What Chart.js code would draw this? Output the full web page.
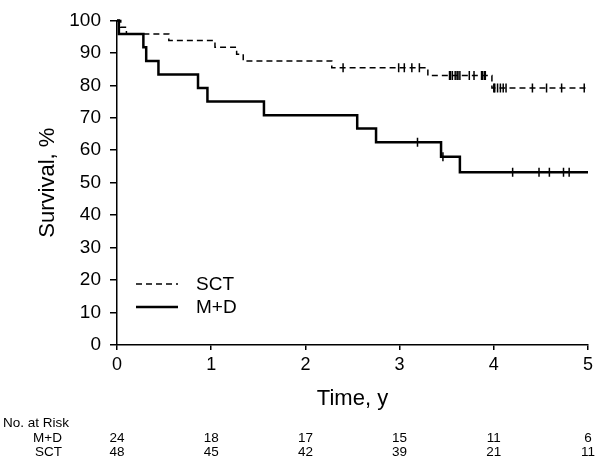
<!DOCTYPE html>
<html>
<head>
<meta charset="utf-8">
<script src="https://cdn.jsdelivr.net/npm/chart.js@4"></script>
<style>
  body { margin: 0; background: #fff; }
  #wrap { width: 600px; height: 462px; }
</style>
</head>
<body>
<div id="wrap"><canvas id="kmChart"></canvas></div>
<script>
// Kaplan-Meier data (time in years, survival in %)
const sctEventTimes = [0.04, 0.10, 0.55, 1.04, 1.27, 1.34, 2.28, 3.30, 3.98];
const sctSurvival   = [97.9, 95.8, 93.8, 91.7, 89.6, 87.5, 85.4, 83.0, 79.2];
const sctCensored   = [2.40, 2.99, 3.05, 3.13, 3.21, 3.53, 3.54, 3.56, 3.59, 3.61, 3.62, 3.64,
                       3.74, 3.79, 3.87, 3.88, 3.90, 3.91, 4.00, 4.01, 4.04, 4.07, 4.10, 4.13,
                       4.41, 4.56, 4.72, 4.96];

const mdEventTimes = [0.02, 0.28, 0.31, 0.44, 0.86, 0.96, 1.56, 2.55, 2.75, 3.44, 3.64];
const mdSurvival   = [95.8, 91.7, 87.5, 83.3, 79.2, 75.0, 70.8, 66.7, 62.5, 58.0, 53.2];
const mdCensored   = [3.19, 3.46, 4.20, 4.48, 4.59, 4.74, 4.80];

// number at risk table
const riskTimes = [0, 1, 2, 3, 4, 5];
const riskMD    = [24, 18, 17, 15, 11, 6];
const riskSCT   = [48, 45, 42, 39, 21, 11];

const xTicks = [0, 1, 2, 3, 4, 5];
const yTicks = [0, 10, 20, 30, 40, 50, 60, 70, 80, 90, 100];

const FONT = '"Liberation Sans", Arial, sans-serif';
Chart.defaults.font.family = FONT;
Chart.defaults.color = '#000';

// step curve points: start at 100%, drop at each event, run flat to the end
function stepPoints(times, surv, tEnd) {
  const pts = [{ x: 0, y: 100 }];
  times.forEach((t, i) => pts.push({ x: t, y: surv[i] }));
  pts.push({ x: tEnd, y: surv[surv.length - 1] });
  return pts;
}

// survival value at time t from the step function
function survivalAt(times, surv, t) {
  let s = 100;
  times.forEach((et, i) => { if (et <= t) s = surv[i]; });
  return s;
}

function censorPoints(cens, times, surv) {
  return cens.map(t => ({ x: t, y: survivalAt(times, surv, t) }));
}

// legend, x title and at-risk table drawn on the canvas
const extras = {
  id: 'extras',
  afterDraw(chart) {
    const ctx = chart.ctx;
    const x = chart.scales.x;
    const area = chart.chartArea;
    ctx.save();
    ctx.fillStyle = '#000';
    ctx.strokeStyle = '#000';

    // legend
    ctx.lineWidth = 1.5;
    ctx.setLineDash([6, 4]);
    ctx.beginPath(); ctx.moveTo(136, 284); ctx.lineTo(178, 284); ctx.stroke();
    ctx.setLineDash([]);
    ctx.lineWidth = 2.5;
    ctx.beginPath(); ctx.moveTo(136, 307); ctx.lineTo(178, 307); ctx.stroke();
    ctx.font = '19px ' + FONT;
    ctx.textBaseline = 'middle';
    ctx.textAlign = 'left';
    ctx.fillText('SCT', 196, 285);
    ctx.fillText('M+D', 196, 308);

    // x axis title
    ctx.font = '22px ' + FONT;
    ctx.textAlign = 'center';
    ctx.fillText('Time, y', (area.left + area.right) / 2, 399);

    // at-risk table
    ctx.font = '13.5px ' + FONT;
    ctx.textAlign = 'left';
    ctx.fillText('No. at Risk', 3, 423);
    ctx.textAlign = 'right';
    ctx.fillText('M+D', 62, 438);
    ctx.fillText('SCT', 62, 452);
    ctx.textAlign = 'center';
    riskTimes.forEach((t, i) => {
      const px = x.getPixelForValue(t);
      ctx.fillText(String(riskMD[i]), px, 438);
      ctx.fillText(String(riskSCT[i]), px, 452);
    });
    ctx.restore();
  }
};

const ctx = document.getElementById('kmChart').getContext('2d');
new Chart(ctx, {
  type: 'line',
  data: {
    datasets: [
      {
        label: 'SCT',
        data: stepPoints(sctEventTimes, sctSurvival, 5),
        stepped: true,
        borderColor: '#000',
        borderWidth: 1.5,
        borderDash: [6, 4],
        pointRadius: 0,
        fill: false,
        clip: false
      },
      {
        label: 'M+D',
        data: stepPoints(mdEventTimes, mdSurvival, 5),
        stepped: true,
        borderColor: '#000',
        borderWidth: 2.5,
        pointRadius: 0,
        fill: false,
        clip: false
      },
      {
        label: 'SCT censored',
        data: censorPoints(sctCensored, sctEventTimes, sctSurvival),
        showLine: false,
        pointStyle: 'line',
        rotation: 90,
        pointRadius: 4.5,
        borderColor: '#000',
        borderWidth: 1.5
      },
      {
        label: 'M+D censored',
        data: censorPoints(mdCensored, mdEventTimes, mdSurvival),
        showLine: false,
        pointStyle: 'line',
        rotation: 90,
        pointRadius: 4.5,
        borderColor: '#000',
        borderWidth: 1.5
      }
    ]
  },
  options: {
    responsive: true,
    maintainAspectRatio: false,
    animation: false,
    layout: { padding: { top: 13, right: 12, bottom: 0, left: 0 } },
    plugins: {
      legend: { display: false },
      tooltip: { enabled: false }
    },
    scales: {
      x: {
        type: 'linear',
        min: 0,
        max: 5,
        afterBuildTicks: s => { s.ticks = xTicks.map(v => ({ value: v })); },
        afterFit: s => { s.height = 117; },
        ticks: { font: { size: 18 }, color: '#000', padding: 4 },
        grid: { drawOnChartArea: false, color: '#000', lineWidth: 1.5, tickLength: 5 },
        border: { color: '#000', width: 1.5 }
      },
      y: {
        min: 0,
        max: 100,
        afterBuildTicks: s => { s.ticks = yTicks.map(v => ({ value: v })); },
        afterFit: s => { s.width = 117; },
        ticks: { font: { size: 19 }, color: '#000', padding: 9 },
        grid: { drawOnChartArea: false, color: '#000', lineWidth: 1.5, tickLength: 7 },
        border: { color: '#000', width: 1.5 },
        title: {
          display: true,
          text: 'Survival, %',
          font: { size: 22 },
          color: '#000',
          padding: { top: 35, bottom: 0 }
        }
      }
    }
  },
  plugins: [extras]
});
</script>
</body>
</html>
